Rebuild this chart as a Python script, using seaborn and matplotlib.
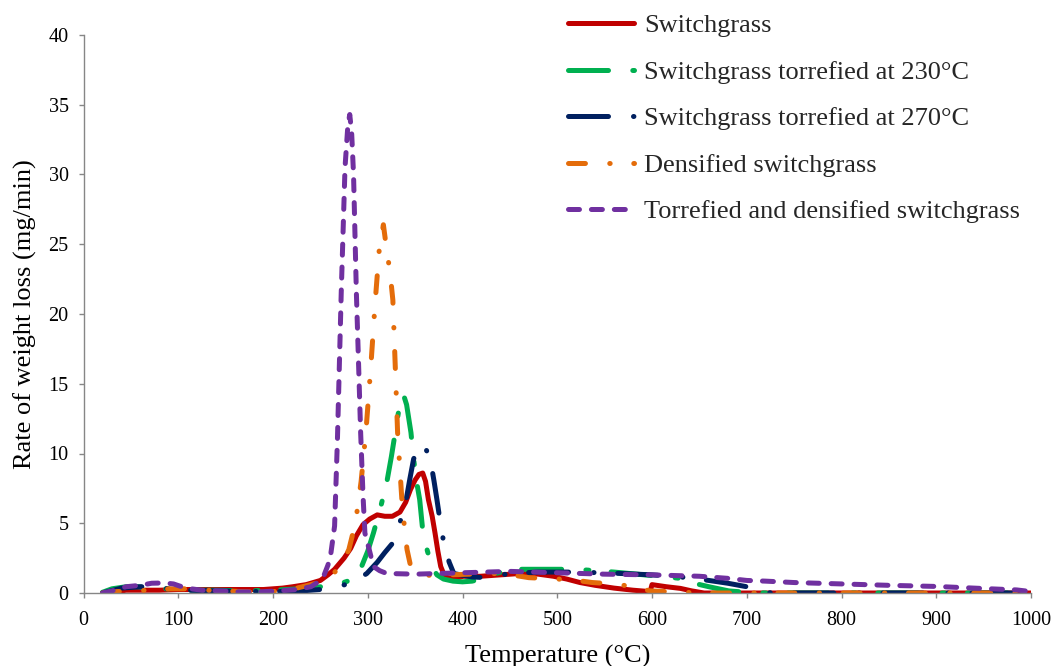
import matplotlib
matplotlib.use("Agg")
import matplotlib.pyplot as plt
import seaborn as sns

# --- data (temperature in degC, rate in mg/min) ---
labels = [
    "Switchgrass",
    "Switchgrass torrefied at 230\u00b0C",
    "Switchgrass torrefied at 270\u00b0C",
    "Densified switchgrass",
    "Torrefied and densified switchgrass",
]

t_raw = [20, 30, 45, 60, 80, 100, 130, 160, 190, 210, 221, 235, 250, 258, 265, 275, 282,
         288, 295, 302, 310, 318, 326, 334, 340, 345, 350, 354, 358, 361, 364, 368, 371,
         374, 377, 380, 384, 392, 401, 419, 440, 461, 480, 496, 510, 524, 540, 560, 580,
         598, 600, 615, 630, 642, 655, 700, 800, 900, 1000]
r_raw = [0, 0.05, 0.2, 0.2, 0.2, 0.25, 0.25, 0.25, 0.25, 0.35, 0.45, 0.6, 0.9, 1.3, 1.7,
         2.5, 3.2, 4.1, 4.9, 5.3, 5.6, 5.5, 5.5, 5.8, 6.5, 7.4, 8.1, 8.5, 8.6, 8.0, 6.7, 5.5,
         4.3, 3.0, 1.9, 1.4, 1.1, 1.05, 1.2, 1.2, 1.3, 1.4, 1.35, 1.2, 1.0, 0.75, 0.55, 0.35,
         0.2, 0.1, 0.6, 0.45, 0.33, 0.15, 0, 0, 0, 0, 0]

t_230 = [20, 30, 45, 57, 75, 93, 110, 140, 170, 200, 228, 245, 261, 270, 281, 287, 293.5,
         300, 306, 313, 320, 325, 329, 333, 337.8, 341, 345.6, 348.4, 351.5, 354.8, 358.3,
         363, 367.8, 373, 380, 390, 400, 410, 420, 435, 455, 490, 520, 560, 600, 630, 641,
         660, 681, 700, 720, 800, 900, 1000]
r_230 = [0.05, 0.3, 0.45, 0.45, 0.3, 0.3, 0.2, 0.2, 0.15, 0.2, 0.3, 0.4, 0.55, 0.65, 0.9,
         1.3, 1.9, 3.0, 4.3, 6.0, 7.9, 9.8, 11.5, 13.2, 14.2, 13.5, 11.5, 9.6, 8.0, 6.7, 4.3,
         3.0, 1.9, 1.3, 1.0, 0.85, 0.8, 0.85, 1.0, 1.4, 1.7, 1.7, 1.7, 1.5, 1.25, 1.05,
         0.75, 0.45, 0.15, 0.05, 0, 0, 0, 0]

t_270 = [20, 40, 60, 75, 90, 110, 140, 170, 200, 230, 250, 265, 276, 288, 299, 310, 318,
         325.4, 333, 340.6, 344.5, 348.4, 352, 357, 361.5, 366, 370, 373, 376.7, 381, 386,
         390.8, 398, 410, 425, 450, 480, 510, 550, 600, 630, 650, 680, 700, 717, 730, 800,
         900, 1000]
r_270 = [0, 0.35, 0.45, 0.45, 0.3, 0.2, 0.15, 0.12, 0.1, 0.15, 0.25, 0.4, 0.6, 0.9, 1.4,
         2.2, 2.9, 3.5, 4.8, 6.7, 8.2, 9.6, 10.2, 10.7, 10.3, 9.6, 8.0, 6.7, 5.0, 3.3, 2.2,
         1.4, 1.3, 1.15, 1.1, 1.4, 1.5, 1.5, 1.45, 1.3, 1.15, 1.0, 0.7, 0.45, 0.05, 0, 0, 0, 0]

t_dens = [20, 35, 50, 70, 90, 110, 130, 150, 175, 200, 215, 225, 240, 250, 261, 268, 274,
          280, 284, 288, 293, 298, 303, 308, 312, 316.5, 320, 323.5, 326.5, 329, 331.5, 334,
          336, 339, 341.5, 345, 350, 358, 370, 385, 430, 447, 470, 500, 515, 537, 560, 580,
          598, 625, 650, 700, 800, 900, 1000]
r_dens = [0, 0.1, 0.15, 0.2, 0.3, 0.3, 0.2, 0.15, 0.08, 0.1, 0.2, 0.35, 0.6, 0.8, 1.2, 1.7,
          2.3, 3.1, 4.2, 5.5, 8.0, 11.5, 16.0, 21.0, 24.5, 26.4, 24.6, 23.0, 21.0, 16.3,
          11.5, 8.8, 6.7, 4.5, 3.1, 2.0, 1.5, 1.3, 1.25, 1.3, 1.4, 1.35, 1.1, 1.0, 0.95, 0.75,
          0.65, 0.45, 0.15, 0.08, 0, 0, 0, 0, 0]

t_tdens = [20, 30, 45, 60, 72, 85, 95, 108, 125, 145, 165, 185, 205, 225, 240, 248, 254,
           258, 261, 265, 268, 272, 276, 279, 281, 283, 285, 288, 290.5, 292.5, 295, 297,
           301.6, 306, 312.6, 320, 350, 400, 450, 500, 550, 600, 650, 680, 700, 720, 750,
           800, 850, 900, 950, 985, 1000]
r_tdens = [0, 0.15, 0.45, 0.55, 0.7, 0.72, 0.65, 0.35, 0.2, 0.15, 0.08, 0.08, 0.15, 0.25,
           0.45, 0.8, 1.3, 2.0, 2.8, 4.8, 11.0, 21.5, 30.5, 33.5, 34.3, 33.0, 30.0, 21.5,
           16.0, 11.5, 7.0, 4.3, 3.1, 1.9, 1.6, 1.4, 1.35, 1.45, 1.55, 1.45, 1.35, 1.3, 1.2,
           1.05, 0.9, 0.85, 0.75, 0.65, 0.55, 0.47, 0.32, 0.22, 0.1]

series = [(t_raw, r_raw), (t_230, r_230), (t_270, r_270), (t_dens, r_dens), (t_tdens, r_tdens)]

# --- styles ---
colors = ["#C00000", "#00B050", "#002060", "#E46C0A", "#7030A0"]
styles = ["-", (0, (28.8, 17.5, 2.2, 16)), (0, (28.8, 18, 0.3, 17)),
          (0, (12.2, 17.5, 0.3, 17)), (0, (7.9, 8.6))]

sns.set_theme(style="ticks")
plt.rcParams["font.family"] = ["Liberation Serif", "DejaVu Serif"]
plt.rcParams["lines.scale_dashes"] = False

W, H = 1052, 666
fig = plt.figure(figsize=(W / 100, H / 100), dpi=100)
ax = fig.add_axes([83.5 / W, 1 - 593 / H, (1031 - 83.5) / W, (593 - 35) / H])

for (t, r), lab, c, ls in zip(series, labels, colors, styles):
    sns.lineplot(x=t, y=r, ax=ax, color=c, linestyle=ls, linewidth=3.6, label=lab,
                 estimator=None, sort=False, solid_capstyle="round", dash_capstyle="round")

if ax.get_legend() is not None:
    ax.get_legend().remove()

ax.set_xlim(0, 1000)
ax.set_ylim(0, 40)
ax.set_xticks(range(0, 1001, 100))
ax.set_yticks(range(0, 41, 5))
grey = "#868686"
for side in ["top", "right"]:
    ax.spines[side].set_visible(False)
for side in ["left", "bottom"]:
    ax.spines[side].set_color(grey)
    ax.spines[side].set_linewidth(1.0)
ax.tick_params(axis="both", direction="out", length=3.8, width=1.0, color=grey,
               labelsize=14.5, labelcolor="black")
ax.tick_params(axis="x", pad=9)
ax.tick_params(axis="y", pad=7)
ax.set_xlabel("Temperature (\u00b0C)", fontsize=19, color="black", labelpad=11)
ax.set_ylabel("Rate of weight loss (mg/min)", fontsize=19, color="black", labelpad=8)

handles, labs = ax.get_legend_handles_labels()
fig.legend(handles, labs, loc="upper left", bbox_to_anchor=(568 / W, 1 - 14 / H),
           frameon=False, fontsize=19, handlelength=2.5, handletextpad=0.38,
           labelspacing=0.87, borderpad=0, borderaxespad=0)

fig.savefig("out.png", dpi=100)
